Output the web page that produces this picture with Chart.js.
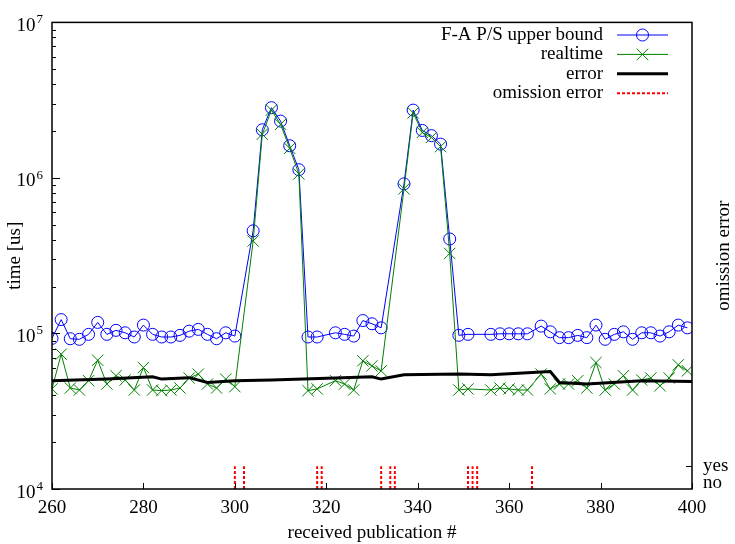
<!DOCTYPE html>
<html>
<head>
<meta charset="utf-8">
<script src="https://cdn.jsdelivr.net/npm/chart.js@4"></script>
<style>
  html, body { margin: 0; padding: 0; background: #fff; }
</style>
</head>
<body>
<canvas id="chart" width="735" height="544"></canvas>
<script>
// publication numbers of the measured samples
const seriesX = [
  260, 262, 264, 266, 268, 270, 272, 274, 276, 278, 280, 282, 284, 286, 288, 290, 292, 294, 296, 298, 300,
  304, 306, 308, 310, 312, 314, 316, 318, 322, 324, 326, 328, 330, 332,
  337, 339, 341, 343, 345, 347, 349, 351, 356, 358, 360, 362, 364, 367, 369,
  371, 373, 375, 377, 379, 381, 383, 385, 387, 389, 391, 393, 395, 397, 399
];
const upperBound = [
  93000, 122800, 92500, 91700, 98700, 117800, 98700, 104700, 101000, 94900, 113200, 98700, 94900, 94900, 97200, 103500, 106200, 98700, 92500, 101000, 96200,
  457000, 2040000, 2830000, 2320000, 1610000, 1130000, 94900, 94900, 101000, 98700, 96200, 121000, 115400, 108700,
  916000, 2730000, 2020000, 1870000, 1650000, 405000, 97300, 98700, 98700, 99500, 99500, 99500, 99500, 111500, 102500,
  94000, 94000, 97200, 94000, 113200, 91700, 98700, 102500, 91700, 101000, 101000, 96200, 102500, 113200, 108700
];
const realtime = [
  44000, 73600, 44600, 43300, 49700, 67300, 47300, 53500, 50200, 43300, 60400, 43300, 42900, 43300, 44600, 51700, 54800, 47300, 44600, 50900, 45500,
  393000, 1910000, 2730000, 2210000, 1550000, 1060000, 42900, 44000, 49700, 47300, 43300, 66700, 61900, 57500,
  851000, 2620000, 1960000, 1820000, 1590000, 327000, 43300, 44000, 43300, 44600, 44000, 43300, 43300, 54800, 44000,
  47300, 47300, 49700, 44600, 65000, 43300, 47300, 53500, 43300, 50200, 51700, 46100, 51700, 62800, 57500
];

const errorX = [260, 272, 282, 284, 290, 294, 300, 308, 315, 322, 330, 332, 337, 349, 356, 362, 369, 371, 377, 389, 400];
const errorValues = [49700, 50900, 52700, 50900, 52000, 48400, 49700, 50200, 50900, 51800, 52700, 50900, 54200, 54800, 54200, 55500, 57000, 48400, 47300, 49700, 49100];

// publications flagged with an omission error ("yes")
const omissionX = [300, 302, 318, 319, 332, 334, 335, 351, 352, 353, 365];

const xTicks = [260, 280, 300, 320, 340, 360, 380, 400];
const yDecades = [4, 5, 6, 7];

const FONT = '"Liberation Serif", "Times New Roman", serif';
const font = { family: FONT, size: 19 };
const BLUE = '#0000ff';
const GREEN = '#008000';
const RED = '#ff0000';

// y2 floor sits a little under 0 so the "no" label clears the frame
const OMISSION_BASE = -0.35;

const toPoints = (xs, ys) => xs.map((x, i) => ({ x, y: ys[i] }));
const omissionPoints = omissionX.flatMap(x => [{ x, y: OMISSION_BASE }, { x, y: 1 }, { x, y: null }]);

// gnuplot look: boxed frame, inward ticks, superscript labels, key on the right
const gnuplotFrame = {
  id: 'gnuplotFrame',
  afterDatasetsDraw(chart) {
    const { ctx, chartArea: a, scales } = chart;
    ctx.save();
    ctx.strokeStyle = '#000';
    ctx.fillStyle = '#000';
    ctx.lineWidth = 1;
    ctx.setLineDash([]);

    ctx.beginPath();
    xTicks.forEach(v => {
      const px = Math.round(scales.x.getPixelForValue(v)) + 0.5;
      ctx.moveTo(px, a.bottom);
      ctx.lineTo(px, a.bottom - 6);
    });
    yDecades.forEach((e, i) => {
      let py = Math.round(scales.y.getPixelForValue(Math.pow(10, e))) + 0.5;
      ctx.moveTo(a.left, py);
      ctx.lineTo(a.left + 8, py);
      if (i < yDecades.length - 1) {
        for (let m = 2; m <= 9; m++) {
          py = Math.round(scales.y.getPixelForValue(m * Math.pow(10, e))) + 0.5;
          ctx.moveTo(a.left, py);
          ctx.lineTo(a.left + 4, py);
        }
      }
    });
    const yes = Math.round(scales.y2.getPixelForValue(1)) + 0.5;
    ctx.moveTo(a.right, yes);
    ctx.lineTo(a.right - 6, yes);
    ctx.stroke();

    ctx.lineWidth = 1.5;
    ctx.strokeRect(a.left, a.top, a.right - a.left, a.bottom - a.top);

    // y tick labels 10^n
    ctx.textAlign = 'right';
    ctx.textBaseline = 'alphabetic';
    yDecades.forEach(e => {
      const py = scales.y.getPixelForValue(Math.pow(10, e));
      ctx.font = `13px ${FONT}`;
      const supW = ctx.measureText(String(e)).width;
      ctx.fillText(String(e), a.left - 9, py + 1);
      ctx.font = `19px ${FONT}`;
      ctx.fillText('10', a.left - 10 - supW, py + 8.5);
    });

    // right axis title reads bottom-to-top like gnuplot's y2label
    ctx.save();
    ctx.translate(724, (a.top + a.bottom) / 2);
    ctx.rotate(-Math.PI / 2);
    ctx.textAlign = 'center';
    ctx.textBaseline = 'middle';
    ctx.font = `19px ${FONT}`;
    ctx.fillText('omission error', 0, 0);
    ctx.restore();

    // key
    const rows = [35, 54.4, 73.8, 93.2];
    const x0 = 617, x1 = 668, xm = 642.5;
    ctx.font = `19px ${FONT}`;
    ctx.textAlign = 'right';
    ctx.textBaseline = 'middle';
    chart.data.datasets.forEach((ds, i) => {
      const y = rows[i];
      ctx.fillStyle = '#000';
      ctx.fillText(ds.label, 603, y);
      ctx.strokeStyle = ds.borderColor;
      ctx.lineWidth = ds.borderWidth;
      ctx.setLineDash(ds.borderDash || []);
      ctx.beginPath();
      ctx.moveTo(x0, y);
      ctx.lineTo(x1, y);
      ctx.stroke();
      ctx.setLineDash([]);
      ctx.lineWidth = 1;
      if (ds.pointStyle === 'circle') {
        ctx.beginPath();
        ctx.arc(xm, y, 6, 0, Math.PI * 2);
        ctx.stroke();
      } else if (ds.pointStyle === 'crossRot') {
        ctx.beginPath();
        ctx.moveTo(xm - 5.8, y - 5.8); ctx.lineTo(xm + 5.8, y + 5.8);
        ctx.moveTo(xm - 5.8, y + 5.8); ctx.lineTo(xm + 5.8, y - 5.8);
        ctx.stroke();
      }
    });
    ctx.restore();
  }
};

new Chart(document.getElementById('chart'), {
  type: 'line',
  data: {
    datasets: [
      {
        label: 'F-A P/S upper bound',
        data: toPoints(seriesX, upperBound),
        borderColor: BLUE,
        borderWidth: 1,
        pointStyle: 'circle',
        pointRadius: 6,
        pointBorderColor: BLUE,
        pointBackgroundColor: 'rgba(0,0,0,0)',
        pointBorderWidth: 1,
        order: 4
      },
      {
        label: 'realtime',
        data: toPoints(seriesX, realtime),
        borderColor: GREEN,
        borderWidth: 1,
        pointStyle: 'crossRot',
        pointRadius: 8,
        pointBorderColor: GREEN,
        pointBorderWidth: 1,
        order: 3
      },
      {
        label: 'error',
        data: toPoints(errorX, errorValues),
        borderColor: '#000',
        borderWidth: 3,
        pointRadius: 0,
        order: 2
      },
      {
        label: 'omission error',
        data: omissionPoints,
        yAxisID: 'y2',
        borderColor: RED,
        borderWidth: 2,
        borderDash: [3, 2],
        pointRadius: 0,
        spanGaps: false,
        order: 1
      }
    ]
  },
  options: {
    responsive: false,
    animation: false,
    events: [],
    layout: { padding: { top: 19, left: 0, right: 0, bottom: 0 } },
    elements: { line: { tension: 0 } },
    plugins: {
      legend: { display: false },
      tooltip: { enabled: false }
    },
    scales: {
      x: {
        type: 'linear',
        min: 260,
        max: 400,
        afterBuildTicks: s => { s.ticks = xTicks.map(v => ({ value: v })); },
        ticks: { font, color: '#000', padding: 8, maxRotation: 0, autoSkip: false },
        grid: { display: false, drawTicks: false },
        border: { display: false },
        title: { display: true, text: 'received publication #', font, color: '#000', padding: { top: 0, bottom: 0 } },
        afterFit: s => { s.height = 55; }
      },
      y: {
        type: 'logarithmic',
        position: 'left',
        min: 1e4,
        max: 1e7,
        ticks: { display: false },
        grid: { display: false, drawTicks: false },
        border: { display: false },
        title: { display: true, text: 'time [us]', font, color: '#000', padding: { top: 4, bottom: 0 } },
        afterFit: s => { s.width = 52; }
      },
      y2: {
        position: 'right',
        min: OMISSION_BASE,
        max: 27.3,
        afterBuildTicks: s => { s.ticks = [{ value: 0 }, { value: 1 }]; },
        ticks: {
          font, color: '#000', padding: 11, autoSkip: false,
          callback: v => (v === 1 ? 'yes' : v === 0 ? 'no' : '')
        },
        grid: { display: false, drawTicks: false },
        border: { display: false },
        afterFit: s => { s.width = 43; }
      }
    }
  },
  plugins: [gnuplotFrame]
});
</script>
</body>
</html>
